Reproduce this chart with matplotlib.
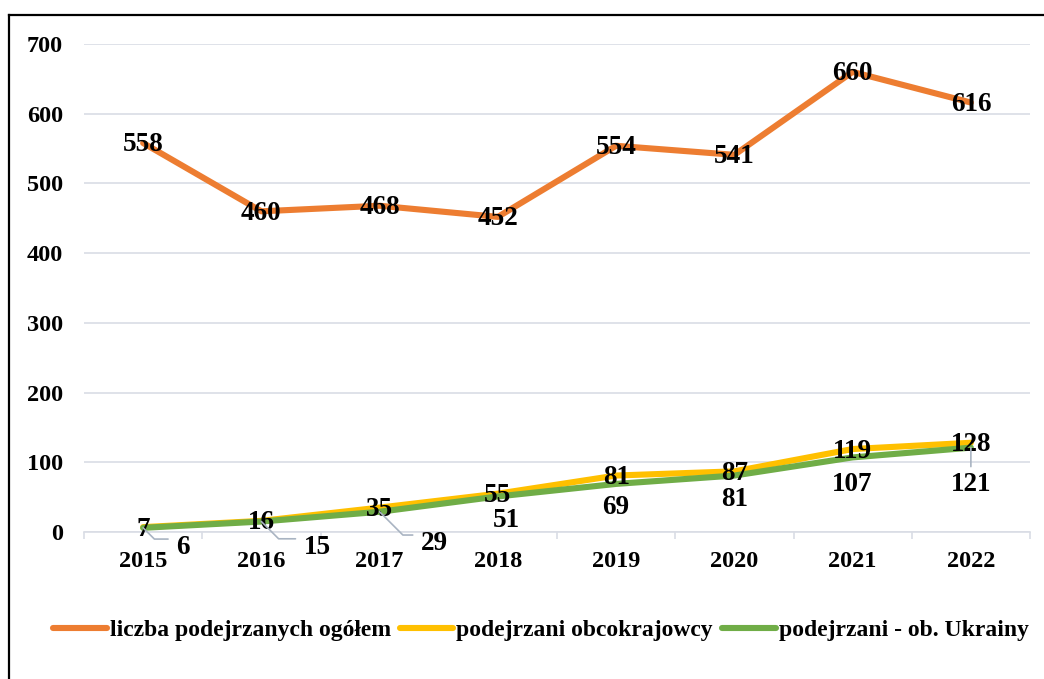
import matplotlib.pyplot as plt
from matplotlib.lines import Line2D

years = ["2015", "2016", "2017", "2018", "2019", "2020", "2021", "2022"]
ogolem = [558, 460, 468, 452, 554, 541, 660, 616]
obcokrajowcy = [7, 16, 35, 55, 81, 87, 119, 128]
ukraina = [6, 15, 29, 51, 69, 81, 107, 121]

names = ["liczba podejrzanych ogółem", "podejrzani obcokrajowcy", "podejrzani - ob. Ukrainy"]
colors = ["#ED7D31", "#FFC000", "#70AD47"]

plt.rcParams['font.family'] = ['Liberation Serif', 'DejaVu Serif']
plt.rcParams['font.weight'] = 'bold'

W, H = 1044, 679
fig = plt.figure(figsize=(W / 100, H / 100), dpi=100)
ax = fig.add_axes([84 / W, 1 - 532 / H, (1030 - 84) / W, (532 - 44) / H])

x = list(range(len(years)))
lw = 4.4
ax.plot(x, ogolem, color=colors[0], lw=lw, solid_capstyle='round', zorder=3, label=names[0])
ax.plot(x, obcokrajowcy, color=colors[1], lw=lw, solid_capstyle='round', zorder=3, label=names[1])
ax.plot(x, ukraina, color=colors[2], lw=lw, solid_capstyle='round', zorder=4, label=names[2])

ax.set_xlim(-0.5, len(years) - 0.5)
ax.set_ylim(0, 700)
ax.set_yticks(range(0, 701, 100))
ax.set_xticks(x)
ax.set_xticklabels(years)
ax.set_xticks([i - 0.5 for i in range(len(years) + 1)], minor=True)

grid_c = "#D9DDE5"
ax.grid(axis='y', color=grid_c, lw=1.2, zorder=0)
for s in ['top', 'right', 'left']:
    ax.spines[s].set_visible(False)
ax.spines['bottom'].set_color(grid_c)
ax.spines['bottom'].set_linewidth(1.2)
ax.tick_params(axis='y', length=0, pad=15, labelsize=17.5)
ax.tick_params(axis='x', which='major', length=0, pad=14, labelsize=17.5)
ax.tick_params(axis='x', which='minor', length=5, color=grid_c, width=1.2, direction='out')

fs = 19.5
for i, v in enumerate(ogolem):
    ax.annotate(str(v), (i, v), xytext=(0, -2), textcoords='offset pixels',
                ha='center', va='center', fontsize=fs, fontweight='bold', zorder=6)
for i, v in enumerate(obcokrajowcy):
    ax.annotate(str(v), (i, v), xytext=(0, -2), textcoords='offset pixels',
                ha='center', va='center', fontsize=fs, fontweight='bold', zorder=6)

leader_c = "#A9B4C2"
# green labels: offsets in pixels below the points
offsets = [(40, -20), (56, -26), (55, -32), (8, -24), (0, -24), (0, -24), (0, -27), (0, -37)]
for i, v in enumerate(ukraina):
    dx, dy = offsets[i]
    if i < 3:
        ax.annotate(str(v), (i, v), xytext=(dx, dy), textcoords='offset pixels',
                    ha='center', va='center', fontsize=fs, fontweight='bold', zorder=6,
                    arrowprops=dict(arrowstyle='-', color=leader_c, lw=1.2, shrinkA=4, shrinkB=0,
                                    relpos=(0, 0.85),
                                    connectionstyle='angle,angleA=0,angleB=-45,rad=0'))
    elif i == 7:
        ax.annotate(str(v), (i, v), xytext=(dx, dy), textcoords='offset pixels',
                    ha='center', va='center', fontsize=fs, fontweight='bold', zorder=6,
                    arrowprops=dict(arrowstyle='-', color=leader_c, lw=1.2, shrinkA=2, shrinkB=0,
                                    relpos=(0.5, 1)))
    else:
        ax.annotate(str(v), (i, v), xytext=(dx, dy), textcoords='offset pixels',
                    ha='center', va='center', fontsize=fs, fontweight='bold', zorder=6)

leg = fig.legend(loc='center', bbox_to_anchor=(541 / W, 1 - 630 / H), ncol=3, frameon=False,
                 handlelength=2.25, handletextpad=0.13, columnspacing=0.4,
                 prop={'weight': 'bold', 'size': 17})

# outer frame (left and top edges)
fig.add_artist(Line2D([9 / W, 9 / W], [0, 1 - 15 / H], color='black', lw=1.6, transform=fig.transFigure))
fig.add_artist(Line2D([9 / W, 1], [1 - 15 / H, 1 - 15 / H], color='black', lw=1.6, transform=fig.transFigure))

fig.savefig("out.png", dpi=100)
